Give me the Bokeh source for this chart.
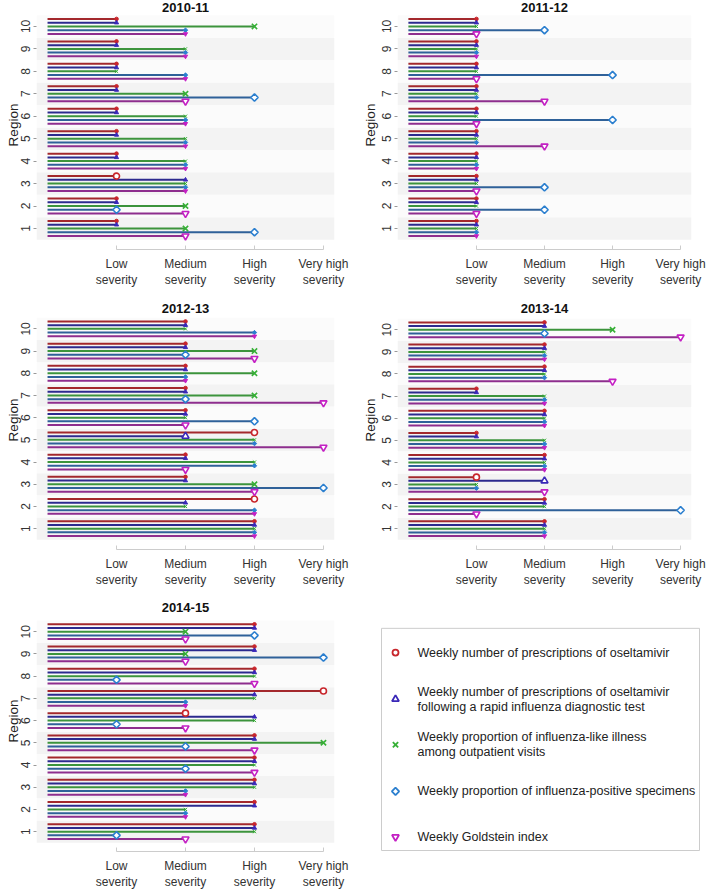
import math
from bokeh.plotting import figure
from bokeh.models import Range1d, FixedTicker, ColumnDataSource
from bokeh.layouts import row, column
from bokeh.core.properties import value
from bokeh.embed import file_html
from bokeh.resources import INLINE

FONT = "Liberation Sans"

# ---------------- data ----------------
regions = [1, 2, 3, 4, 5, 6, 7, 8, 9, 10]
severity_ticks = [1, 2, 3, 4]
severity_labels = ["Low\nseverity", "Medium\nseverity", "High\nseverity", "Very high\nseverity"]
indicator_names = [
    "Weekly number of prescriptions of oseltamivir",
    "Weekly number of prescriptions of oseltamivir\nfollowing a rapid influenza diagnostic test",
    "Weekly proportion of influenza-like illness\namong outpatient visits",
    "Weekly proportion of influenza-positive specimens",
    "Weekly Goldstein index",
]
seasons = ["2010-11", "2011-12", "2012-13", "2013-14", "2014-15"]

# severity per region 1..10 (1=Low, 2=Medium, 3=High, 4=Very high)
oseltamivir_2010 = [1, 1, 1, 1, 1, 1, 1, 1, 1, 1]
ridt_2010 = [1, 1, 2, 1, 1, 1, 1, 1, 1, 1]
ili_2010 = [2, 2, 2, 2, 2, 2, 2, 1, 2, 3]
positive_2010 = [3, 1, 2, 2, 2, 2, 3, 2, 2, 2]
goldstein_2010 = [2, 2, 2, 2, 2, 2, 2, 2, 2, 2]

oseltamivir_2011 = [1, 1, 1, 1, 1, 1, 1, 1, 1, 1]
ridt_2011 = [1, 1, 1, 1, 1, 1, 1, 1, 1, 1]
ili_2011 = [1, 1, 1, 1, 1, 1, 1, 1, 1, 1]
positive_2011 = [1, 2, 2, 1, 1, 3, 1, 3, 1, 2]
goldstein_2011 = [1, 1, 1, 1, 2, 1, 2, 1, 1, 1]

oseltamivir_2012 = [3, 3, 2, 2, 3, 2, 2, 2, 2, 2]
ridt_2012 = [3, 2, 2, 2, 2, 2, 2, 2, 2, 2]
ili_2012 = [3, 2, 3, 3, 3, 2, 3, 3, 3, 2]
positive_2012 = [3, 3, 4, 3, 3, 3, 2, 2, 2, 3]
goldstein_2012 = [3, 3, 3, 2, 4, 2, 4, 2, 3, 3]

oseltamivir_2013 = [2, 2, 1, 2, 1, 2, 1, 2, 2, 2]
ridt_2013 = [2, 2, 2, 2, 1, 2, 1, 2, 2, 2]
ili_2013 = [2, 2, 1, 2, 2, 2, 2, 2, 2, 3]
positive_2013 = [2, 4, 1, 2, 2, 2, 2, 2, 2, 2]
goldstein_2013 = [2, 1, 2, 2, 2, 2, 2, 3, 2, 4]

oseltamivir_2014 = [3, 3, 3, 3, 3, 2, 4, 3, 3, 3]
ridt_2014 = [3, 3, 3, 3, 3, 3, 3, 3, 3, 3]
ili_2014 = [3, 2, 3, 3, 4, 3, 3, 3, 2, 2]
positive_2014 = [1, 2, 2, 2, 2, 1, 2, 1, 4, 3]
goldstein_2014 = [2, 2, 2, 3, 3, 2, 2, 3, 2, 2]

season_data = {
    "2010-11": [oseltamivir_2010, ridt_2010, ili_2010, positive_2010, goldstein_2010],
    "2011-12": [oseltamivir_2011, ridt_2011, ili_2011, positive_2011, goldstein_2011],
    "2012-13": [oseltamivir_2012, ridt_2012, ili_2012, positive_2012, goldstein_2012],
    "2013-14": [oseltamivir_2013, ridt_2013, ili_2013, positive_2013, goldstein_2013],
    "2014-15": [oseltamivir_2014, ridt_2014, ili_2014, positive_2014, goldstein_2014],
}

# ---------------- styles ----------------
line_colors = ["#a3282c", "#2c2a8e", "#3c943c", "#2f6199", "#8e2e8e"]
marker_colors = ["#c8262c", "#3a28b8", "#36b036", "#2b7fcf", "#c420c4"]
marker_types = ["circle", "triangle", "x", "square", "inverted_triangle"]
marker_angles = [0, 0, 0, math.pi / 4, 0]
marker_sizes = [6, 7, 7.5, 5.2, 7]
offsets = [1 / 3, 1 / 6, 0, -1 / 6, -1 / 3]
band_colors = ["#f3f3f3", "#fbfbfb"]
XLO, XHI = -0.16, 4.16


def make_panel(title, fig_w, fig_h, frame_left, frame_w, title_px, band_top, band_h,
               axis_px, ylabel_standoff):
    vals = season_data[title]
    ppu = band_h / 10.0
    y_end = 10.5 + band_top / ppu
    y_start = 0.5 - (axis_px - (band_top + band_h)) / ppu
    p = figure(width=fig_w, height=fig_h, output_backend="svg", toolbar_location=None,
               x_range=Range1d(XLO, XHI), y_range=Range1d(y_start, y_end),
               min_border_left=frame_left, min_border_right=fig_w - frame_left - frame_w,
               min_border_top=0, min_border_bottom=fig_h - axis_px)
    p.outline_line_color = None
    p.grid.visible = False
    p.background_fill_color = "white"
    p.border_fill_color = "white"

    # alternating region bands
    p.hbar(y=regions, height=1.0, left=XLO, right=XHI,
           fill_color=[band_colors[(r + 1) % 2] for r in regions], line_color=None)

    # lines
    for k in range(5):
        ys = [r + offsets[k] for r in regions]
        src = ColumnDataSource(dict(x0=[0] * 10, x1=vals[k], y=ys))
        p.segment(x0="x0", y0="y", x1="x1", y1="y", source=src,
                  line_color=line_colors[k], line_width=2, line_cap="butt")

    # markers: open when the value stands out from adjacent indicators
    for k in range(5):
        bx, by, sx, sy = [], [], [], []
        for i, r in enumerate(regions):
            v = vals[k][i]
            neigh = [vals[j][i] for j in (k - 1, k + 1) if 0 <= j < 5]
            if all(v != nv for nv in neigh):
                bx.append(v); by.append(r + offsets[k])
            else:
                sx.append(v); sy.append(r + offsets[k])
        p.scatter(sx, sy, marker=marker_types[k], angle=marker_angles[k],
                  size=marker_sizes[k] * 0.6, fill_color=marker_colors[k],
                  line_color=marker_colors[k], line_width=1)
        p.scatter(bx, by, marker=marker_types[k], angle=marker_angles[k],
                  size=marker_sizes[k], fill_color="white" if marker_types[k] != "x" else None,
                  line_color=marker_colors[k], line_width=1.6)

    # title inside the frame
    ty = 10.5 + (band_top - title_px) / ppu
    p.text(x=[(XLO + XHI) / 2], y=[ty], text=[title], text_align="center",
           text_baseline="middle", text_font=value(FONT), text_font_style="bold",
           text_font_size="13px", text_color="#111111")

    # x axis
    xa = p.xaxis[0]
    xa.ticker = FixedTicker(ticks=severity_ticks)
    xa.major_label_overrides = {t: l for t, l in zip(severity_ticks, severity_labels)}
    xa.bounds = (1, 4)
    xa.axis_line_color = "#cccccc"
    xa.major_tick_line_color = "#cccccc"
    xa.major_tick_in = 4
    xa.major_tick_out = 0
    xa.minor_tick_line_color = None
    xa.major_label_text_font = FONT
    xa.major_label_text_font_size = "12px"
    xa.major_label_text_color = "#333333"
    xa.major_label_standoff = 7

    # y axis
    ya = p.yaxis[0]
    ya.ticker = FixedTicker(ticks=regions)
    ya.axis_line_color = None
    ya.major_tick_line_color = "#999999"
    ya.major_tick_in = 0
    ya.major_tick_out = 3
    ya.minor_tick_line_color = None
    ya.major_label_orientation = "vertical"
    ya.major_label_text_font = FONT
    ya.major_label_text_font_size = "12px"
    ya.major_label_text_color = "#333333"
    ya.major_label_standoff = 3
    ya.axis_label = "Region"
    ya.axis_label_text_font = FONT
    ya.axis_label_text_font_style = "normal"
    ya.axis_label_text_font_size = "13.5px"
    ya.axis_label_text_color = "#222222"
    ya.axis_label_standoff = ylabel_standoff
    return p


LW, RW = 354, 355
p1 = make_panel("2010-11", LW, 290, 36, 298, 7, 15, 229, 254, -2)
p2 = make_panel("2011-12", RW, 290, 43, 294, 7, 15, 229, 254, 2)
p3 = make_panel("2012-13", LW, 300, 36, 298, 18, 28, 228, 266, -2)
p4 = make_panel("2013-14", RW, 300, 43, 294, 18, 29, 227, 266, 2)
p5 = make_panel("2014-15", LW, 302, 36, 298, 18, 31, 229, 269, -2)

# ---------------- legend panel ----------------
# its frame is aligned with the 2014-15 frame (fig rows 0..269)
LFH = 269
lg = figure(width=RW, height=302, output_backend="svg", toolbar_location=None,
            x_range=Range1d(0, RW), y_range=Range1d(LFH, 0),
            min_border_left=0, min_border_right=0, min_border_top=0,
            min_border_bottom=302 - LFH)
lg.outline_line_color = None
lg.grid.visible = False
lg.axis.visible = False
lg.quad(left=[27], right=[345], top=[39], bottom=[268], fill_color="white",
        line_color="#cccccc", line_width=1)
entry_y = [64, 112, 159, 207, 254]
for k in range(5):
    lg.scatter([41], [entry_y[k]], marker=marker_types[k], angle=-marker_angles[k],
               size=marker_sizes[k], fill_color=None, line_color=marker_colors[k],
               line_width=1.8)
    lines = indicator_names[k].split("\n")
    n = len(lines)
    for j, t in enumerate(lines):
        yy = entry_y[k] + (j - (n - 1) / 2) * 15.5
        lg.text(x=[63], y=[yy], text=[t], text_align="left", text_baseline="middle",
                text_font=value(FONT), text_font_size="12.5px", text_color="#222222")

layout = column(row(p1, p2), row(p3, p4), row(p5, lg))
open("out.html", "w").write(file_html(layout, INLINE))
